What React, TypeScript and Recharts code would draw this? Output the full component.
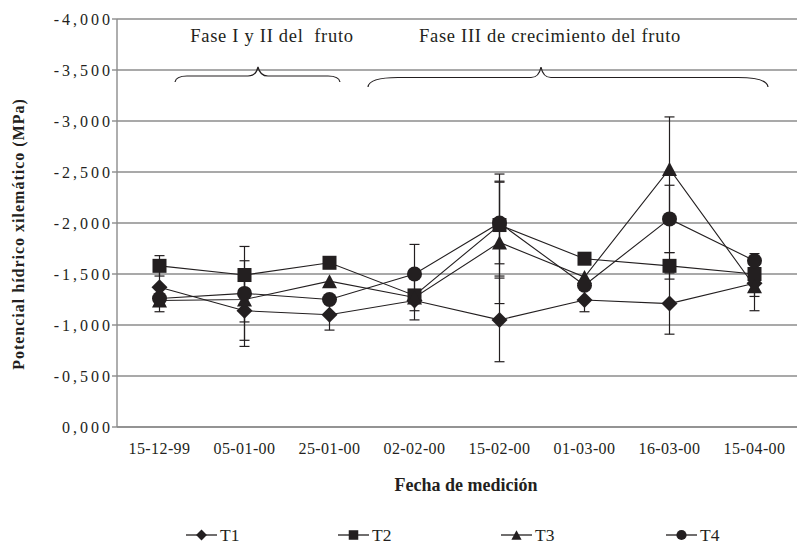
import React from 'react';
import { LineChart, Line, XAxis, YAxis, CartesianGrid, ErrorBar, ReferenceArea, Legend } from 'recharts';

const INK = '#231f20';
const GRID = '#8c8c8c';
const FONT = '"Liberation Serif", "Times New Roman", serif';

// ---- data ----
const dates = ['15-12-99', '05-01-00', '25-01-00', '02-02-00', '15-02-00', '01-03-00', '16-03-00', '15-04-00'];
const t1 = [-1.37, -1.14, -1.10, -1.24, -1.05, -1.245, -1.21, -1.41];
const t2 = [-1.58, -1.49, -1.61, -1.29, -1.98, -1.65, -1.58, -1.50];
const t3 = [-1.24, -1.25, -1.43, -1.27, -1.81, -1.47, -2.53, -1.38];
const t4 = [-1.26, -1.31, -1.25, -1.50, -2.00, -1.39, -2.04, -1.63];
const t1Err = [0.24, 0.35, 0.15, 0.10, 0.41, 0.115, 0.30, 0.13];
const t2Err = [0.10, 0.14, null, null, 0.50, null, 0.13, null];
const t3Err = [null, 0.22, null, 0.22, 0.60, null, 0.51, 0.24];
const t4Err = [null, 0.46, null, 0.29, 0.40, null, 0.33, 0.07];
const yTicks = [-4, -3.5, -3, -2.5, -2, -1.5, -1, -0.5, 0];
const seriesNames = ['T1', 'T2', 'T3', 'T4'];
const seriesShapes = ['diamond', 'square', 'triangle', 'circle'];
const phaseLabels = ['Fase I y II del  fruto', 'Fase III de crecimiento del fruto'];
const phaseStart = ['15-12-99', '02-02-00'];
const phaseEnd = ['25-01-00', '15-04-00'];
const yTitle = 'Potencial hídrico xilemático (MPa)';
const xTitle = 'Fecha de medición';

const values = [t1, t2, t3, t4];
const errors = [t1Err, t2Err, t3Err, t4Err];
const rows = dates.map((d, i) => {
  const r: any = { date: d };
  seriesNames.forEach((n, k) => {
    r[n] = values[k][i];
    r[n + 'e'] = errors[k][i];
  });
  return r;
});

const fmt = (v: number) => (v === 0 ? '0,000' : v.toFixed(3).replace('.', ','));

function Marker({ shape, cx, cy, s = 1 }: any) {
  if (cx == null || cy == null) return null;
  if (shape === 'diamond') {
    const d = 8 * s;
    return <path d={`M${cx},${cy - d}L${cx + d},${cy}L${cx},${cy + d}L${cx - d},${cy}Z`} fill={INK} />;
  }
  if (shape === 'square') {
    const h = 7 * s;
    return <rect x={cx - h} y={cy - h} width={2 * h} height={2 * h} fill={INK} />;
  }
  if (shape === 'triangle') {
    const w = 7.5 * s;
    const h = 7 * s;
    return <path d={`M${cx},${cy - h}L${cx + w},${cy + h}L${cx - w},${cy + h}Z`} fill={INK} />;
  }
  return <circle cx={cx} cy={cy} r={7.5 * s} fill={INK} />;
}

const XTick = ({ x, y, payload }: any) => (
  <text x={x} y={y + 19} textAnchor="middle" fontFamily={FONT} fontSize={16} letterSpacing={0.4} fill={INK}>
    {payload.value}
  </text>
);

const YTick = ({ x, y, payload }: any) => (
  <text x={x + 3} y={y} dy={5.5} textAnchor="end" fontFamily={FONT} fontSize={16} letterSpacing={3} fill={INK}>
    {fmt(payload.value)}
  </text>
);

const YTitle = (props: any) => {
  const vb = props.viewBox || { x: 0, y: 19, width: 117, height: 408 };
  const cx = vb.x + 18;
  const cy = vb.y + vb.height / 2 + 11;
  return (
    <text x={cx} y={cy} transform={`rotate(-90 ${cx} ${cy})`} textAnchor="middle" dominantBaseline="central"
      fontFamily={FONT} fontSize={16} fontWeight="bold" letterSpacing={1} fill={INK}>
      {yTitle}
    </text>
  );
};

const XTitle = (props: any) => {
  const vb = props.viewBox || { x: 117, y: 427, width: 680, height: 30 };
  return (
    <text x={vb.x + vb.width / 2 + 9} y={vb.y + 64} textAnchor="middle" fontFamily={FONT} fontSize={18}
      fontWeight="bold" fill={INK}>
      {xTitle}
    </text>
  );
};

const braceLayout = [
  { textDx: 112.5, b0: 15.5, b1: 10.5, peak: 98.5, curl: 12, yLine: 57, yEnd: 63 },
  { textDx: 135.5, b0: -46.5, b1: 13.5, peak: 126.5, curl: 30, yLine: 58.5, yEnd: 68 },
];

const PhaseAnno = ({ viewBox, text, lay }: any) => {
  if (!viewBox) return null;
  const vb = viewBox;
  const x0 = vb.x + lay.b0;
  const x1 = vb.x + vb.width + lay.b1;
  const px = vb.x + lay.peak;
  const yl = vb.y + lay.yLine;
  const ye = vb.y + lay.yEnd;
  const yp = vb.y + 48;
  const c = lay.curl;
  const d = `M${x0},${ye} Q${x0 + 1},${yl} ${x0 + c},${yl} L${px - 10},${yl} Q${px - 2},${yl} ${px},${yp} Q${px + 2},${yl} ${px + 10},${yl} L${x1 - c},${yl} Q${x1 - 1},${yl} ${x1},${ye}`;
  return (
    <g>
      <text x={vb.x + lay.textDx} y={vb.y + 23} textAnchor="middle" fontFamily={FONT} fontSize={18.5}
        letterSpacing={0.7} fill={INK} style={{ whiteSpace: 'pre' }}>
        {text}
      </text>
      <path d={d} fill="none" stroke={INK} strokeWidth={1.2} />
    </g>
  );
};

const legendLineStart = [186, 338, 501, 666];

const renderLegend = (props: any) => {
  const payload = props.payload || [];
  return (
    <svg width={797} height={30} style={{ display: 'block' }}>
      {payload.map((p: any, i: number) => {
        const idx = seriesNames.indexOf(p.value);
        const x = legendLineStart[i];
        return (
          <g key={p.value}>
            <line x1={x} y1={15} x2={x + 31} y2={15} stroke={INK} strokeWidth={1.3} />
            <Marker shape={seriesShapes[idx]} cx={x + 15.5} cy={15} s={0.68} />
            <text x={x + 34} y={21} fontFamily={FONT} fontSize={17.5} fill={INK}>{p.value}</text>
          </g>
        );
      })}
    </svg>
  );
};

export default function App() {
  return (
    <div style={{ position: 'absolute', left: 0, top: 0, width: 797, height: 551, background: '#fff' }}>
      <LineChart width={797} height={551} data={rows} margin={{ top: 19, right: 0, bottom: 94, left: 0 }}
        style={{ fontFamily: FONT }}>
        <CartesianGrid vertical={false} stroke={GRID} strokeWidth={1.4} />
        <XAxis dataKey="date" padding={{ left: 42.5, right: 42.5 }} tickLine={false} interval={0} height={30}
          axisLine={{ stroke: GRID, strokeWidth: 1.4 }} tick={(p: any) => <XTick {...p} />}
          label={(p: any) => <XTitle {...p} />} />
        <YAxis type="number" domain={[-4, 0]} reversed ticks={yTicks} interval={0} width={117} tickSize={5}
          allowDataOverflow tickLine={{ stroke: GRID, strokeWidth: 1.4 }} axisLine={{ stroke: GRID, strokeWidth: 1.4 }}
          tick={(p: any) => <YTick {...p} />} label={(p: any) => <YTitle {...p} />} />
        {phaseLabels.map((txt, i) => (
          <ReferenceArea key={txt} x1={phaseStart[i]} x2={phaseEnd[i]} y1={-4} y2={-3.5} fill="none"
            fillOpacity={0} stroke="none" ifOverflow="visible"
            label={(p: any) => <PhaseAnno viewBox={p.viewBox} text={txt} lay={braceLayout[i]} />} />
        ))}
        {seriesNames.map((n, k) => (
          <Line key={n} dataKey={n} name={n} stroke={INK} strokeWidth={1.1} isAnimationActive={false}
            activeDot={false}
            dot={(p: any) => <Marker key={`${n}-${p.index}`} shape={seriesShapes[k]} cx={p.cx} cy={p.cy} />}>
            <ErrorBar dataKey={n + 'e'} width={5} stroke={INK} strokeWidth={1.2} direction="y"
              isAnimationActive={false} />
          </Line>
        ))}
        <Legend layout="horizontal" verticalAlign="middle" align="center" content={renderLegend}
          wrapperStyle={{ top: 520, left: 0, width: 797, height: 30 }} />
      </LineChart>
    </div>
  );
}
